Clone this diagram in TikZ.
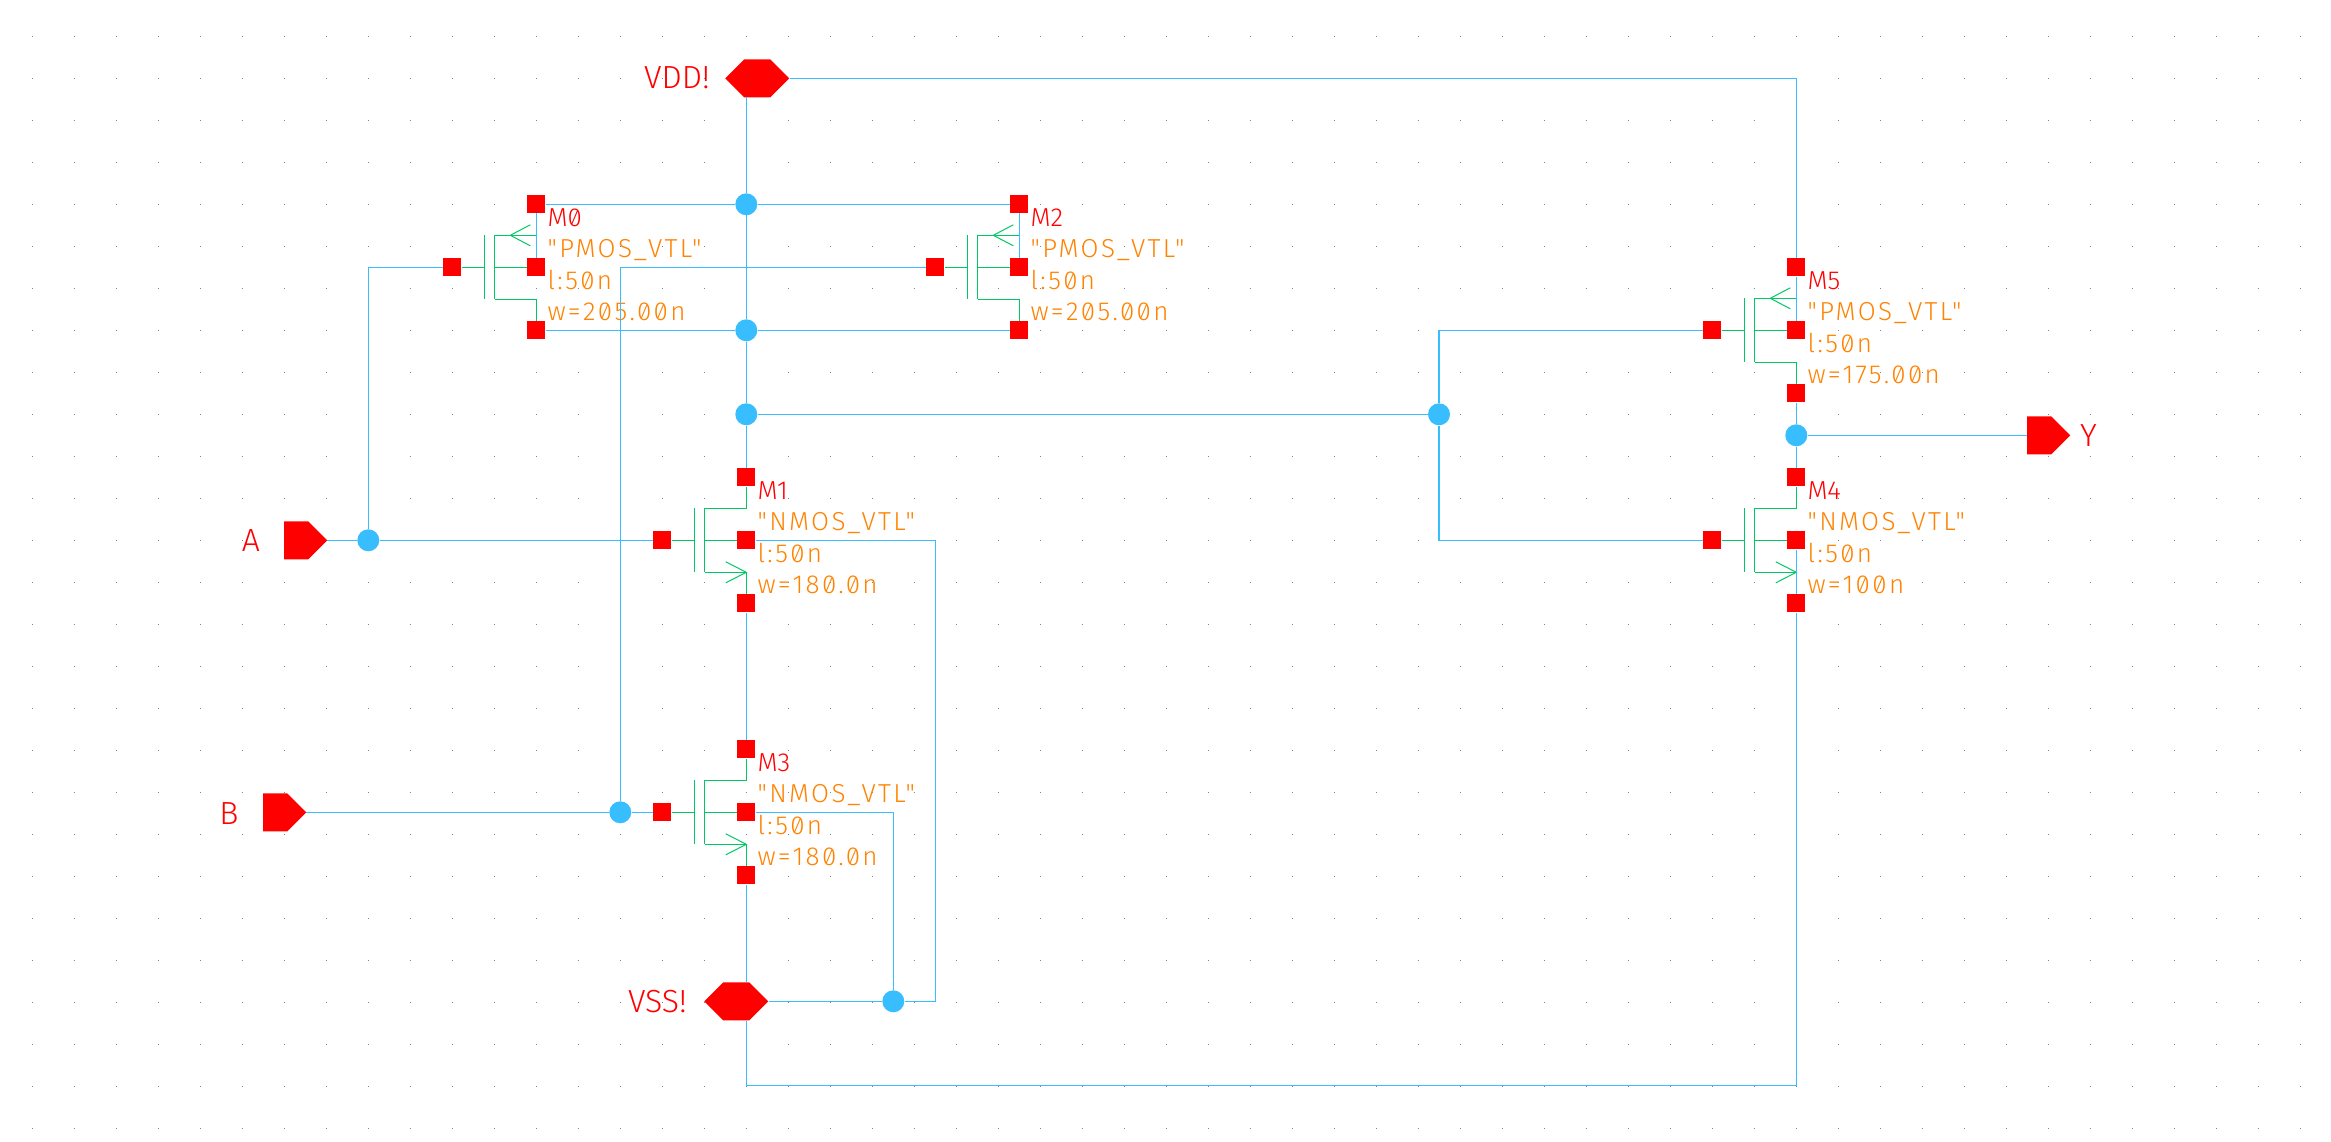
\documentclass[tikz,border=0pt]{standalone}
\usepackage{fontspec}
\setmainfont[UprightFont=* Light,RawFeature=+zero]{Fira Sans}
\newfontfamily\parmfont[UprightFont=* Light,RawFeature=+zero,LetterSpace=9]{Fira Sans}
\usetikzlibrary{shapes.symbols}

\definecolor{wireblue}{RGB}{56,189,255}
\definecolor{devgreen}{RGB}{0,200,100}
\definecolor{parmorange}{RGB}{255,130,0}
\definecolor{griddot}{RGB}{130,130,160}

\tikzstyle{wire} = [draw=wireblue, line width=1.3pt]
\tikzstyle{device} = [draw=devgreen, line width=1.3pt]
\tikzstyle{pad} = [fill=red, rectangle, minimum width=18pt, minimum height=18pt, inner sep=0pt]
\tikzstyle{junction} = [fill=wireblue, circle, minimum size=22pt, inner sep=0pt]
\tikzstyle{iopin} = [fill=red, signal, signal to=east, signal pointer angle=90, minimum height=38pt, minimum width=43pt, inner sep=0pt, anchor=west]
\tikzstyle{railpin} = [iopin, signal to=east and west, minimum width=64pt]
\tikzstyle{pinlabel} = [text=red, anchor=base, font=\fontsize{32pt}{32pt}\selectfont, inner sep=0pt]
\tikzstyle{instname} = [text=red, anchor=base west, font=\fontsize{26pt}{26pt}\selectfont, inner sep=0pt]
\tikzstyle{parm} = [text=parmorange, anchor=base west, font=\parmfont\fontsize{26pt}{26pt}\selectfont, inner sep=0pt]

% name, x, y, model, w
\newcommand{\mossymbol}[5]{
	\node [pad] (#1t) at (#2,#3-63) {};
	\node [pad] (#1m) at (#2,#3) {};
	\node [pad] (#1b) at (#2,#3+63) {};
	\node [pad] (#1g) at (#2-84,#3) {};
	\node [instname] (#1name) at (#2+11,#3-41) {#1};
	\node [parm] (#1model) at (#2+11,#3-10) {"#4\_VTL"};
	\node [parm] (#1len) at (#2+11,#3+22) {l:50n};
	\node [parm] (#1wid) at (#2+11,#3+53) {w=#5};
	\draw [device] (#1g) -- (#2-52,#3);
	\draw [device] (#2-52,#3-32) -- (#2-52,#3+32);
	\draw [device] (#2-41.5,#3-32) -- (#2-41.5,#3+32);
	\draw [device] (#2-41.5,#3) -- (#1m);
}
\newcommand{\pmosfet}[4]{
	\mossymbol{#1}{#2}{#3}{PMOS}{#4}
	\draw [wire] (#1t) -- (#1m);
	\draw [device] (#2,#3-32) -- (#2-41.5,#3-32);
	\draw [device] (#2-41.5,#3+32) -- (#2,#3+32) -- (#1b);
	\draw [device, line width=1pt] (#2-6,#3-42.5) -- (#2-26,#3-32) -- (#2-6,#3-21.5);
}
\newcommand{\nmosfet}[4]{
	\mossymbol{#1}{#2}{#3}{NMOS}{#4}
	\draw [device] (#1t) -- (#2,#3-32) -- (#2-41.5,#3-32);
	\draw [device] (#2-41.5,#3+32) -- (#2,#3+32) -- (#1b);
	\draw [device, line width=1pt] (#2-20.5,#3+21.5) -- (#2,#3+32) -- (#2-20.5,#3+42.5);
}

\begin{document}
\begin{tikzpicture}[x=1pt,y=-1pt]
	\useasboundingbox (0,0) rectangle (2331,1142);

	\foreach \gx in {32.3,74.3,...,2301}
		\foreach \gy in {36.3,78.3,...,1130}
			\fill [griddot] (\gx-0.7,\gy-0.7) rectangle (\gx+0.7,\gy+0.7);

	\pmosfet{M0}{536.3}{267.3}{205.00n}
	\pmosfet{M2}{1019.3}{267.3}{205.00n}
	\pmosfet{M5}{1796.3}{330.3}{175.00n}
	\nmosfet{M1}{746.3}{540.3}{180.0n}
	\nmosfet{M3}{746.3}{812.3}{180.0n}
	\nmosfet{M4}{1796.3}{540.3}{100n}

	\node [railpin] (VDD) at (725,78.3) {};
	\node [railpin] (VSS) at (704,1001.3) {};
	\node [iopin] (A) at (284,540.3) {};
	\node [iopin] (B) at (263,812.3) {};
	\node [iopin] (Y) at (2027,435.3) {};
	\node [pinlabel] (VDDlabel) at (677,89) {VDD!};
	\node [pinlabel] (VSSlabel) at (657.5,1012) {VSS!};
	\node [pinlabel] (Alabel) at (251,551) {A};
	\node [pinlabel] (Blabel) at (229,824) {B};
	\node [pinlabel] (Ylabel) at (2088.5,446) {Y};

	\node [junction] (vddj) at (746.3,204.3) {};
	\node [junction] (pbot) at (746.3,330.3) {};
	\node [junction] (out) at (746.3,414.3) {};
	\node [junction] (outr) at (1439,414.3) {};
	\node [junction] (aj) at (368.3,540.3) {};
	\node [junction] (bj) at (620.3,812.3) {};
	\node [junction] (vssj) at (893.3,1001.3) {};
	\node [junction] (yj) at (1796.3,435.3) {};
	\coordinate (railr) at (935.5,1001.3);
	\coordinate (railb) at (746.3,1085.3);

	\draw [wire] (VDD.east) -| (M5t);
	\draw [wire] (vddj |- VDD.south) -- (vddj);
	\draw [wire] (M0t) -- (vddj);
	\draw [wire] (vddj) -- (M2t);
	\draw [wire] (vddj) -- (pbot);
	\draw [wire] (M0b) -- (pbot);
	\draw [wire] (pbot) -- (M2b);
	\draw [wire] (pbot) -- (out);
	\draw [wire] (out) -- (M1t);
	\draw [wire] (out) -- (outr);
	\draw [wire] (outr) |- (M5g);
	\draw [wire] (outr) |- (M4g);
	\draw [wire] (M5b) -- (yj);
	\draw [wire] (yj) -- (M4t);
	\draw [wire] (yj) -- (Y.west);
	\draw [wire] (M4m) -- (M4b);

	\draw [wire] (A.east) -- (aj);
	\draw [wire] (aj) -- (M1g);
	\draw [wire] (aj) |- (M0g);
	\draw [wire] (B.east) -- (bj);
	\draw [wire] (bj) -- (M3g);
	\draw [wire] (bj) |- (M2g);

	\draw [wire] (M1b) -- (M3t);
	\draw [wire] (M3b) -- (M3b |- VSS.north);
	\draw [wire] (VSS.east) -- (vssj);
	\draw [wire] (M3m) -| (vssj);
	\draw [wire] (M1m) -| (railr) -- (vssj);
	\draw [wire] (M3b |- VSS.south) -- (railb) -| (M4b);

\end{tikzpicture}
\end{document}
